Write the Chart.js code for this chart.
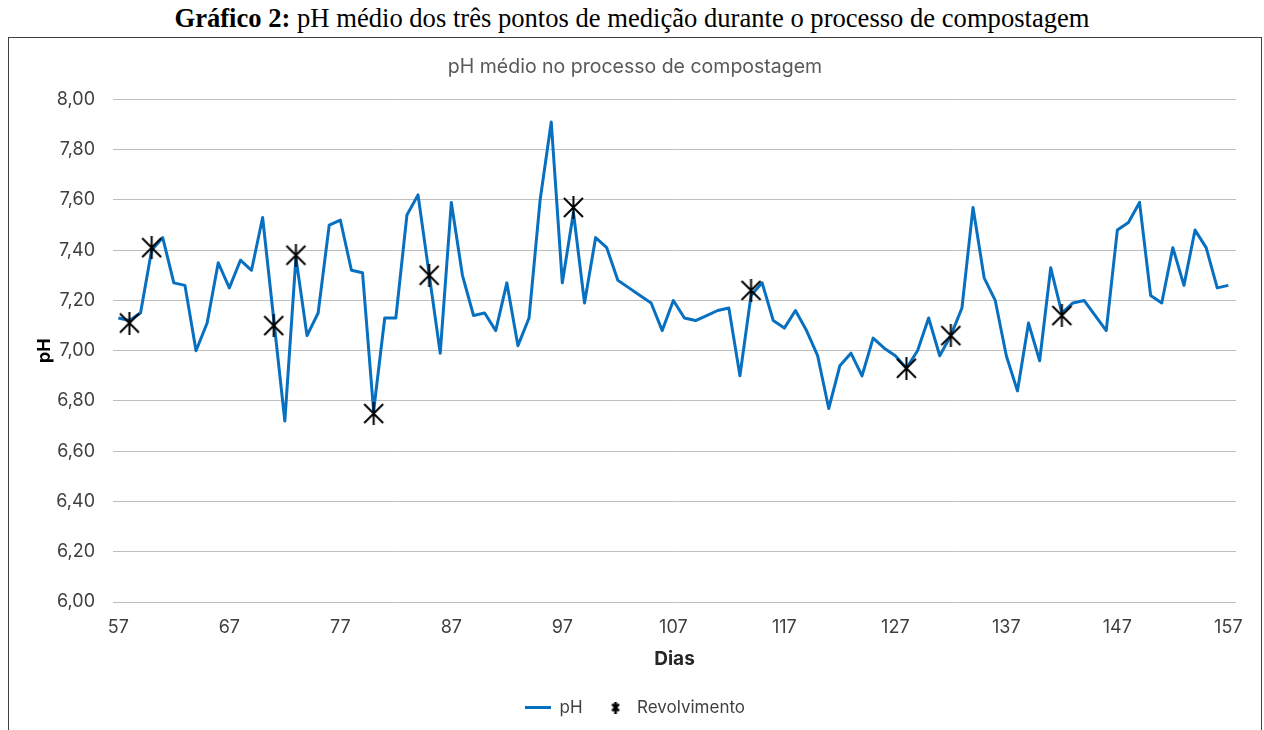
<!DOCTYPE html>
<html>
<head>
<meta charset="utf-8">
<script src="https://cdn.jsdelivr.net/npm/chart.js@4.4.1/dist/chart.umd.min.js"></script>
<style>
  html, body { margin: 0; padding: 0; background: #fff; overflow: hidden; }
  #legenda {
    position: absolute; left: 0; top: 3px; width: 1264px; text-align: center;
    font-family: "Liberation Serif", "Times New Roman", serif; font-size: 26.6px; color: #000;
  }
  #quadro {
    position: absolute; left: 8px; top: 37px; width: 1252px; height: 720px;
    border: 1px solid #404040; background: #fff;
  }
  #grafico { display: block; }
</style>
</head>
<body>
<div id="legenda"><b>Gráfico 2:</b> pH médio dos três pontos de medição durante o processo de compostagem</div>
<div id="quadro"><canvas id="grafico" width="1252" height="700"></canvas></div>
<script>
// dias com medição de pH
const dias = [57, 58, 59, 60, 61, 62, 63, 64, 65, 66, 67, 68, 69, 70, 72, 73, 74, 75, 76, 77,
  78, 79, 80, 81, 82, 83, 84, 86, 87, 88, 89, 90, 91, 92, 93, 94, 95, 96, 97, 98,
  99, 100, 101, 102, 103, 104, 105, 106, 107, 108, 109, 110, 111, 112, 113, 114, 115, 116, 117, 118,
  119, 120, 121, 122, 123, 124, 125, 126, 127, 128, 129, 130, 131, 132, 133, 134, 135, 136, 137, 138,
  139, 140, 141, 142, 143, 144, 146, 147, 148, 149, 150, 151, 152, 153, 154, 155, 156, 157];
const ph = [7.13, 7.12, 7.15, 7.40, 7.45, 7.27, 7.26, 7.00, 7.11, 7.35, 7.25, 7.36, 7.32, 7.53, 6.72, 7.37, 7.06, 7.15, 7.50, 7.52,
  7.32, 7.31, 6.76, 7.13, 7.13, 7.54, 7.62, 6.99, 7.59, 7.30, 7.14, 7.15, 7.08, 7.27, 7.02, 7.13, 7.60, 7.91, 7.27, 7.55,
  7.19, 7.45, 7.41, 7.28, 7.25, 7.22, 7.19, 7.08, 7.20, 7.13, 7.12, 7.14, 7.16, 7.17, 6.90, 7.22, 7.27, 7.12, 7.09, 7.16,
  7.08, 6.98, 6.77, 6.94, 6.99, 6.90, 7.05, 7.01, 6.98, 6.93, 7.00, 7.13, 6.98, 7.06, 7.17, 7.57, 7.29, 7.20, 6.98, 6.84,
  7.11, 6.96, 7.33, 7.15, 7.19, 7.20, 7.08, 7.48, 7.51, 7.59, 7.22, 7.19, 7.41, 7.26, 7.48, 7.41, 7.25, 7.26];

// dias de revolvimento da leira
const diasRevolvimento = [58, 60, 71, 73, 80, 85, 98, 114, 128, 132, 142];
const phRevolvimento = [7.11, 7.41, 7.10, 7.38, 6.75, 7.30, 7.57, 7.24, 6.93, 7.06, 7.14];

const ticksDias = [57, 67, 77, 87, 97, 107, 117, 127, 137, 147, 157];

const azul = '#0870C0';
const cinza = '#595959';
const escuro = '#3F3F3F';
const fonte = 'Inter, "Open Sans", sans-serif';

function estrela(tam, espessura) {
  const c = document.createElement('canvas');
  c.width = tam; c.height = tam;
  const g = c.getContext('2d');
  const m = espessura;
  g.strokeStyle = '#000';
  g.lineWidth = espessura;
  g.beginPath();
  g.moveTo(m, m); g.lineTo(tam - m, tam - m);
  g.moveTo(tam - m, m); g.lineTo(m, tam - m);
  g.moveTo(tam / 2, 0); g.lineTo(tam / 2, tam);
  g.stroke();
  return c;
}
const estrelaGrande = estrela(23, 2);
const estrelaPequena = estrela(12, 2.6);

new Chart(document.getElementById('grafico'), {
  type: 'line',
  data: {
    datasets: [{
      label: 'pH',
      data: dias.map((d, i) => ({x: d, y: ph[i]})),
      borderColor: azul,
      backgroundColor: azul,
      borderWidth: 3,
      borderJoinStyle: 'round',
      pointRadius: 0,
      pointStyle: 'line',
      tension: 0,
      order: 1,
    }, {
      label: 'Revolvimento',
      data: diasRevolvimento.map((d, i) => ({x: d, y: phRevolvimento[i]})),
      showLine: false,
      pointStyle: estrelaGrande,
      pointRadius: 11,
      borderColor: '#000',
      backgroundColor: '#000',
      order: 0,
    }],
  },
  options: {
    responsive: false,
    animation: false,
    layout: { padding: { left: 25, right: 25, top: 0, bottom: 12 } },
    plugins: {
      tooltip: { enabled: false },
      title: {
        display: true,
        text: 'pH médio no processo de compostagem',
        color: cinza,
        font: { family: fonte, size: 19.5, weight: 'normal' },
        padding: { top: 17, bottom: 21 },
      },
      legend: {
        position: 'bottom',
        labels: {
          color: escuro,
          font: { family: fonte, size: 17 },
          usePointStyle: true,
          pointStyleWidth: 26,
          boxHeight: 12,
          padding: 20,
          sort: (a, b) => a.datasetIndex - b.datasetIndex,
          generateLabels(chart) {
            const itens = Chart.defaults.plugins.legend.labels.generateLabels(chart);
            itens.forEach(it => {
              if (it.datasetIndex === 0) {
                it.pointStyle = 'line';
                it.lineWidth = 3;
                it.strokeStyle = azul;
              } else {
                it.pointStyle = estrelaPequena;
              }
            });
            return itens;
          },
        },
      },
    },
    scales: {
      x: {
        type: 'linear',
        min: 56.52,
        max: 157.69,
        grid: { display: false, drawTicks: false },
        border: { display: false },
        afterBuildTicks(scale) { scale.ticks = ticksDias.map(v => ({value: v})); },
        afterFit(scale) { scale.height = 77; },
        ticks: {
          color: escuro,
          font: { family: fonte, size: 18 },
          padding: 15,
          maxRotation: 0,
          autoSkip: false,
        },
        title: {
          display: true,
          text: 'Dias',
          color: '#262626',
          font: { family: fonte, size: 19, weight: 'bold' },
          padding: { top: 0, bottom: 8 },
        },
      },
      y: {
        min: 6,
        max: 8,
        grid: { color: '#BFBFBF', lineWidth: 1, drawTicks: false },
        border: { display: false },
        afterFit(scale) { scale.width = 79; },
        ticks: {
          stepSize: 0.2,
          color: escuro,
          font: { family: fonte, size: 18 },
          padding: 18,
          callback: v => v.toFixed(2).replace('.', ','),
        },
        title: {
          display: true,
          text: 'pH',
          color: '#000',
          font: { family: fonte, size: 18, weight: 'bold' },
          padding: { top: 0, bottom: 0 },
        },
      },
    },
  },
});
</script>
</body>
</html>
